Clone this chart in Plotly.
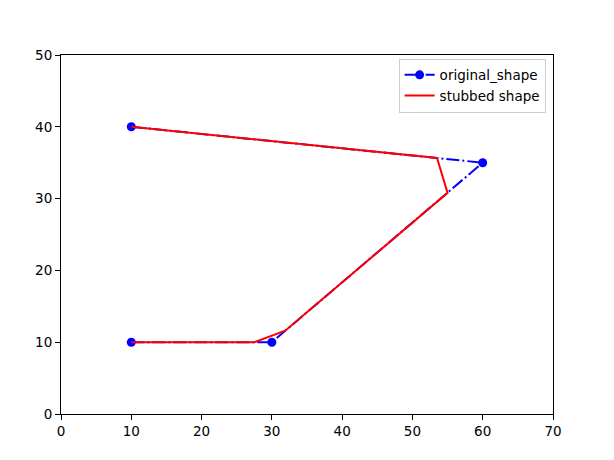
import plotly.graph_objects as go

orig_x = [10, 30, 60, 10]
orig_y = [10, 10, 35, 40]
stub_x = [10, 27.5, 31.9, 55.0, 53.5, 10]
stub_y = [10, 10, 11.6, 30.8, 35.65, 40]
x_ticks = [0, 10, 20, 30, 40, 50, 60, 70]
y_ticks = [0, 10, 20, 30, 40, 50]

fig = go.Figure()
fig.add_trace(go.Scatter(
    x=orig_x, y=orig_y, mode="lines+markers", name="original_shape",
    line=dict(color="#0000ff", width=2, dash="13px,3px,2px,3px"),
    marker=dict(color="#0000ff", size=9, symbol="circle"),
))
fig.add_trace(go.Scatter(
    x=stub_x, y=stub_y, mode="lines", name="stubbed shape",
    line=dict(color="#ff0000", width=2),
))

axis_common = dict(
    showgrid=False, zeroline=False, showline=True, linecolor="black",
    linewidth=1, mirror=True, ticks="outside", ticklen=5, tickwidth=1,
    tickcolor="black", tickfont=dict(family="DejaVu Sans", size=13.5, color="black"),
)
fig.update_xaxes(range=[0, 70], tickvals=x_ticks, **axis_common)
fig.update_yaxes(range=[0, 50], tickvals=y_ticks, **axis_common)

fig.update_layout(
    width=614, height=460,
    margin=dict(l=53, r=69, t=47, b=54),
    plot_bgcolor="white", paper_bgcolor="white",
    font=dict(family="DejaVu Sans", size=13.5, color="black"),
    legend=dict(
        x=0.985, y=0.99, xanchor="right", yanchor="top",
        bgcolor="rgba(255,255,255,0.8)", bordercolor="#cccccc", borderwidth=1,
        font=dict(family="DejaVu Sans", size=13.5), tracegroupgap=0,
        itemwidth=30,
    ),
    showlegend=True,
)

fig.write_html("out.html")
